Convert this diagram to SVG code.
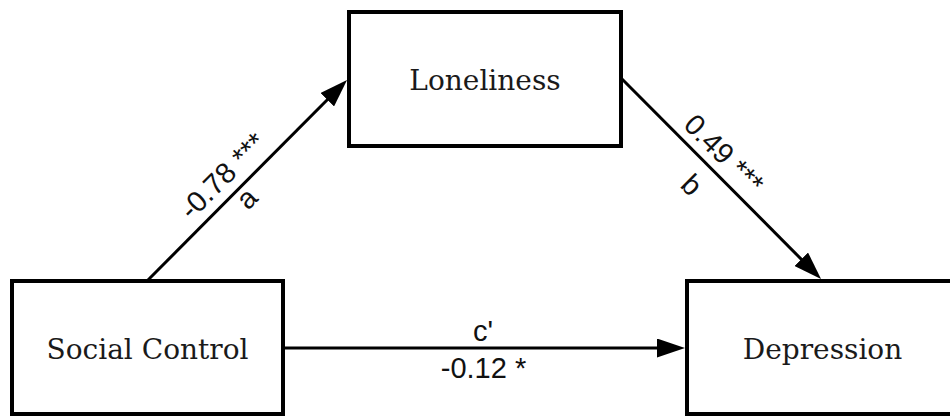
<svg xmlns="http://www.w3.org/2000/svg" width="950" height="416" viewBox="0 0 950 416">
  <style>
    .box { fill: #ffffff; stroke: #000000; stroke-width: 4; }
    .node-label { font-family: "DejaVu Serif", "Liberation Serif", serif; font-size: 28px; fill: #1a1a1a; text-anchor: middle; }
    .edge { fill: none; stroke: #000000; stroke-width: 3; }
    .edge-label { font-family: "Liberation Sans", Arial, sans-serif; font-size: 29px; fill: #111111; text-anchor: middle; }
  </style>
  <defs>
    <marker id="arrow" markerUnits="userSpaceOnUse" markerWidth="28" markerHeight="19" refX="18" refY="9.5" orient="auto">
      <path d="M0,0 L28,9.5 L0,19 Z" fill="#000000"/>
    </marker>
  </defs>
  <rect width="950" height="416" fill="#ffffff"/>

  <g id="connectors">
    <g id="edge-a">
      <line class="edge" x1="147" y1="281" x2="340" y2="87" marker-end="url(#arrow)"/>
      <text class="edge-label" transform="translate(222.5,175.8) rotate(-45)" x="0" y="10">-0.78 ***</text>
      <text class="edge-label" transform="translate(248.3,200) rotate(-45)" x="0" y="7.5">a</text>
    </g>
    <g id="edge-b">
      <line class="edge" x1="621" y1="78" x2="814" y2="272" marker-end="url(#arrow)"/>
      <text class="edge-label" transform="translate(724,154) rotate(45)" x="0" y="10">0.49 ***</text>
      <text class="edge-label" transform="translate(691.7,185) rotate(45)" x="0" y="10">b</text>
    </g>
    <g id="edge-c">
      <line class="edge" x1="283" y1="348" x2="675" y2="348" marker-end="url(#arrow)"/>
      <text class="edge-label" x="483" y="340.5">c'</text>
      <text class="edge-label" x="483.5" y="378">-0.12 *</text>
    </g>
  </g>

  <g id="node-loneliness">
    <rect class="box" x="349" y="12" width="272" height="134"/>
    <text class="node-label" x="485" y="90">Loneliness</text>
  </g>
  <g id="node-social-control">
    <rect class="box" x="12" y="281" width="271" height="133"/>
    <text class="node-label" x="147.5" y="359">Social Control</text>
  </g>
  <g id="node-depression">
    <rect class="box" x="687" y="281" width="272" height="133"/>
    <text class="node-label" x="822.5" y="359">Depression</text>
  </g>
</svg>
